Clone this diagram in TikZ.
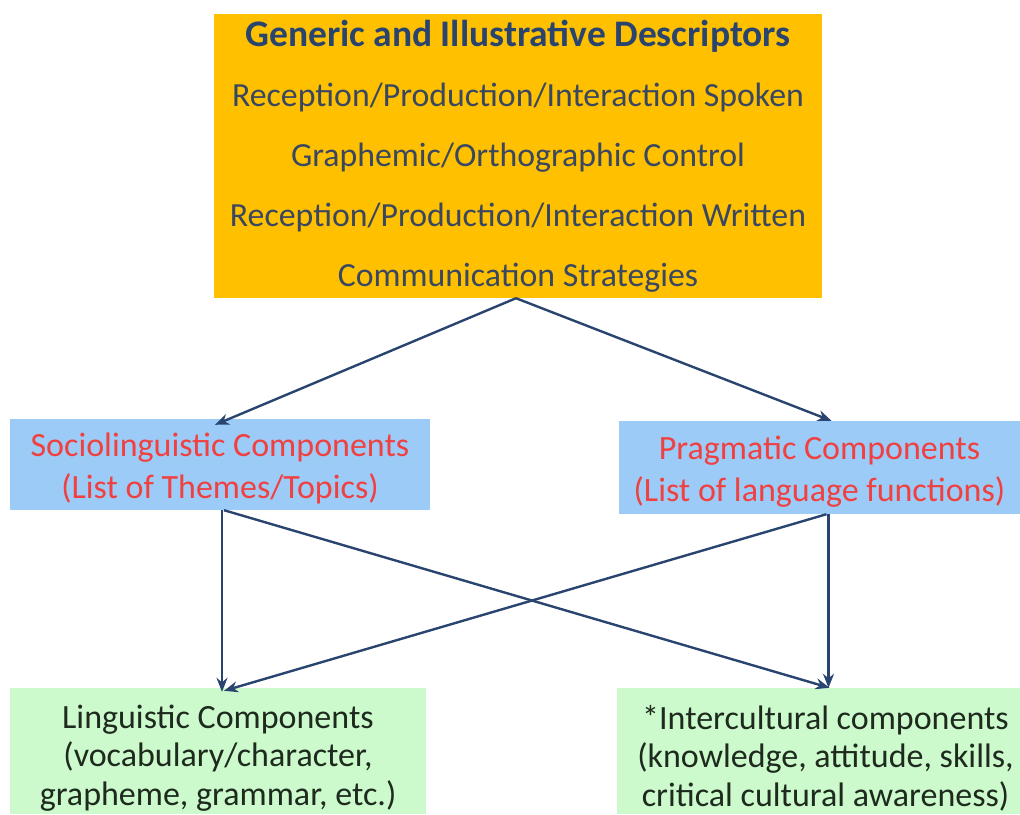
\documentclass[tikz,border=0pt]{standalone}
\usepackage{fontspec}
\setmainfont{Carlito}
\usetikzlibrary{arrows.meta,calc}
\definecolor{gold}{HTML}{FFC000}
\definecolor{lblue}{HTML}{9DCBF7}
\definecolor{lgreen}{HTML}{CCFACC}
\definecolor{navy}{HTML}{2A4470}
\definecolor{toptext}{HTML}{3A4760}
\definecolor{redtext}{HTML}{F04040}
\definecolor{greentext}{HTML}{1E2A1E}
\newcommand{\lowb}[1]{\raisebox{-4pt}[\height][\depth]{#1}}
\newcommand{\lowg}[1]{\raisebox{-7pt}[\height][\depth]{#1}}
\tikzset{
  box/.style={inner sep=0pt, align=center},
  topbox/.style={box, fill=gold, text=toptext, font={\fontsize{33.8}{60}\selectfont}},
  bluebox/.style={box, fill=lblue, text=redtext, font={\fontsize{34}{42}\selectfont}},
  greenbox/.style={box, fill=lgreen, text=greentext, font={\fontsize{34}{38.5}\selectfont}},
  conn/.style={draw=navy, line width=2.4pt, -{Stealth[length=14pt,width=11pt]}}
}
\begin{document}
\begin{tikzpicture}[x=1pt,y=-1pt]
\useasboundingbox (0,0) rectangle (1020,814);
\node[topbox, minimum width=608pt, minimum height=284pt] (top) at (518,156)
  {{\fontsize{37.5}{60}\selectfont\textbf{\color{navy}Generic and Illustrative Descriptors}}\\
   Reception/Production/Interaction Spoken\\
   Graphemic/Orthographic Control\\
   Reception/Production/Interaction Written\\
   Communication Strategies};
\node[bluebox, minimum width=420pt, minimum height=91pt] (socio) at (220,464.5)
  {\lowb{Sociolinguistic Components}\\\lowb{(List of Themes/Topics)}};
\node[bluebox, minimum width=401pt, minimum height=93pt] (prag) at (819.5,467.5)
  {\lowb{Pragmatic Components}\\\lowb{(List of language functions)}};
\node[greenbox, minimum width=416pt, minimum height=126pt] (ling) at (218,751)
  {\lowg{Linguistic Components}\\\lowg{(vocabulary/character,}\\\lowg{grapheme, grammar, etc.)}};
\node[greenbox, minimum width=403pt, minimum height=126pt] (inter) at (818.5,751)
  {\hspace*{14pt}\lowg{*Intercultural components}\\\hspace*{14pt}\lowg{(knowledge, attitude, skills,}\\\hspace*{14pt}\lowg{critical cultural awareness)}};
\draw[conn] ([xshift=-2pt]top.south) -- ([xshift=-5pt,yshift=-6pt]socio.north);
\draw[conn] ([xshift=-2pt]top.south) -- ([xshift=12pt]prag.north);
\draw[conn] ([xshift=2pt]socio.south) -- ([xshift=4pt,yshift=-4pt]ling.north);
\draw[conn] ([xshift=4pt]socio.south) -- ([xshift=11pt]inter.north);
\draw[conn] ([xshift=9pt]prag.south) -- ([xshift=10pt]inter.north);
\draw[conn] ([xshift=7pt]prag.south) -- ([xshift=6pt,yshift=-3pt]ling.north);
\end{tikzpicture}
\end{document}
